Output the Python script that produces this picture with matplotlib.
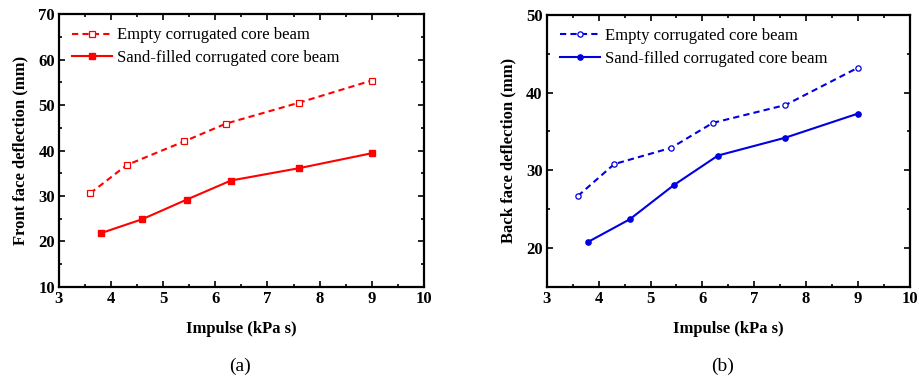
import matplotlib
matplotlib.use("Agg")
import matplotlib.pyplot as plt
from matplotlib.ticker import MultipleLocator

plt.rcParams['font.family'] = ['Liberation Serif', 'DejaVu Serif']

# Impulse values (kPa s)
impulse_empty = [3.6, 4.3, 5.4, 6.2, 7.6, 9.0]
impulse_sand = [3.8, 4.6, 5.45, 6.3, 7.6, 9.0]

# Front face deflection (mm)
front_empty = [30.6, 36.8, 42.0, 45.9, 50.5, 55.4]
front_sand = [21.8, 24.9, 29.2, 33.4, 36.1, 39.4]

# Back face deflection (mm)
back_empty = [26.7, 30.8, 32.9, 36.1, 38.4, 43.2]
back_sand = [20.8, 23.7, 28.1, 31.9, 34.2, 37.3]

label_empty = "Empty corrugated core beam"
label_sand = "Sand-filled corrugated core beam"

fig = plt.figure(figsize=(9.19, 3.82), dpi=100)
ax1 = fig.add_axes([0.0642, 0.249, 0.397, 0.714])
ax2 = fig.add_axes([0.595, 0.249, 0.395, 0.712])

RED = "#ff0000"
BLUE = "#0000e0"


def style_axis(ax, ylim, ymajor, ylabel):
    ax.set_xlim(3, 10)
    ax.set_ylim(*ylim)
    ax.xaxis.set_major_locator(MultipleLocator(1))
    ax.xaxis.set_minor_locator(MultipleLocator(0.5))
    ax.yaxis.set_major_locator(MultipleLocator(ymajor))
    ax.yaxis.set_minor_locator(MultipleLocator(ymajor / 2))
    ax.tick_params(which='both', direction='in', top=True, right=True, width=1.2)
    ax.tick_params(which='major', length=4, labelsize=12, pad=3)
    ax.tick_params(which='minor', length=2.5)
    for lab in ax.get_xticklabels() + ax.get_yticklabels():
        lab.set_fontweight('bold')
    for sp in ax.spines.values():
        sp.set_linewidth(1.6)
    ax.set_xlabel("Impulse (kPa s)", fontsize=12, fontweight='bold', labelpad=10)
    ax.set_ylabel(ylabel, fontsize=12, fontweight='bold', labelpad=7)


ax1.plot(impulse_empty, front_empty, linestyle=(0, (3, 2)), color=RED, lw=1.5,
         marker='s', markersize=3.8, markerfacecolor='white', markeredgewidth=0.9,
         label=label_empty)
ax1.plot(impulse_sand, front_sand, linestyle='-', color=RED, lw=1.5,
         marker='s', markersize=3.8, label=label_sand)
style_axis(ax1, (10, 70), 10, "Front face deflection (mm)")

ax2.plot(impulse_empty, back_empty, linestyle=(0, (3, 2)), color=BLUE, lw=1.5,
         marker='o', markersize=3.8, markerfacecolor='white', markeredgewidth=0.9,
         label=label_empty)
ax2.plot(impulse_sand, back_sand, linestyle='-', color=BLUE, lw=1.5,
         marker='o', markersize=3.8, label=label_sand)
style_axis(ax2, (15, 50), 10, "Back face deflection (mm)")

for ax in (ax1, ax2):
    ax.legend(loc='upper left', frameon=False, fontsize=12, handlelength=2.4,
              handletextpad=0.3, labelspacing=0.4, borderaxespad=0.4,
              borderpad=0.4)

fig.text(0.261, 0.042, "(a)", ha='center', va='center', fontsize=14)
fig.text(0.786, 0.042, "(b)", ha='center', va='center', fontsize=14)

fig.savefig("out.png", dpi=100)
